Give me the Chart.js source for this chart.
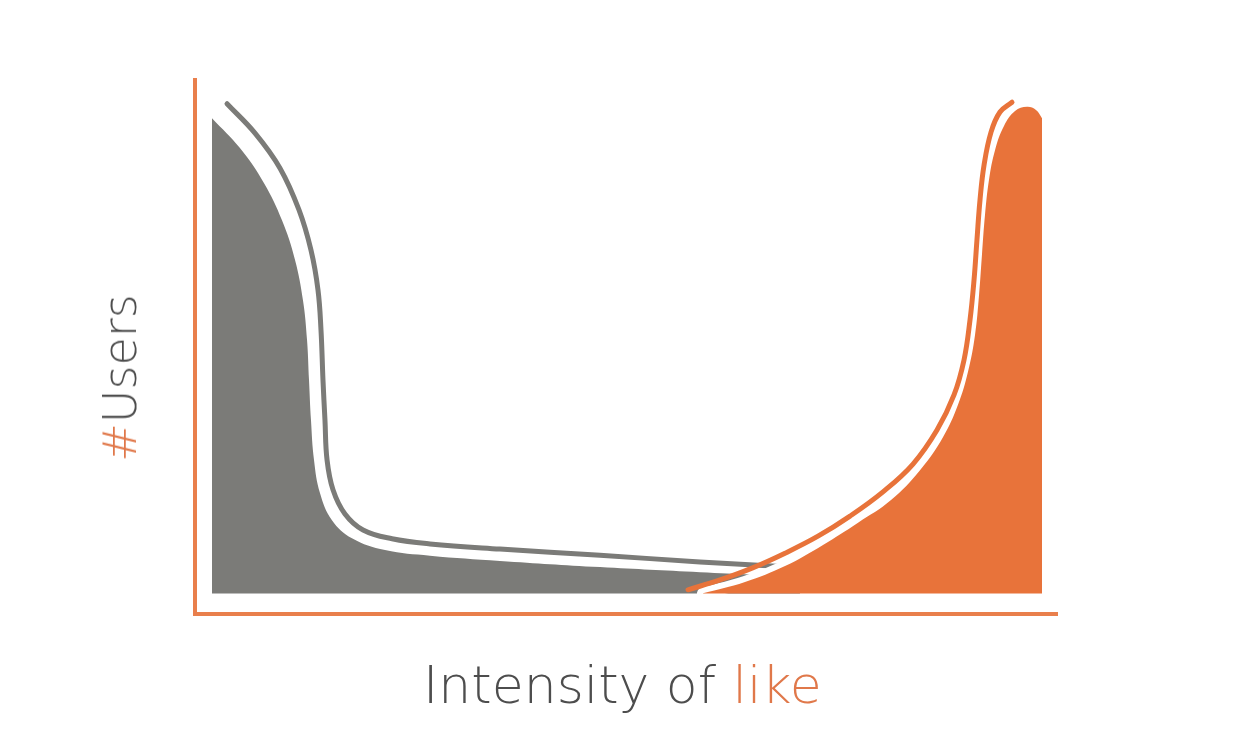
<!DOCTYPE html>
<html>
<head>
<meta charset="utf-8">
<script src="https://cdn.jsdelivr.net/npm/chart.js@4.4.1/dist/chart.umd.min.js"></script>
<style>
  html, body { margin: 0; padding: 0; background: #fff; }
  #wrap { position: relative; width: 1240px; height: 734px; overflow: hidden; }
  canvas { position: absolute; left: 0; top: 0; }
  .title { position: absolute; font-family: "DejaVu Sans", sans-serif; font-weight: 200;
           color: #4d4d4d; white-space: nowrap; line-height: 1; }
  .hot { color: #e0784a; }
  #xTitle { left: 423px; top: 659px; font-size: 52px; }
  #yTitle { left: 120px; top: 378px; font-size: 46px; transform: translate(-50%, -50%) rotate(-90deg); }
</style>
</head>
<body>
<div id="wrap">
  <canvas id="myChart" width="1240" height="734"></canvas>
  <div class="title" id="xTitle">Intensity of <span class="hot">like</span></div>
  <div class="title" id="yTitle"><span class="hot">#</span>Users</div>
</div>
<script>
  // Intensity of like (0-100) vs #Users (0-100)
  const grayAreaX = [1.97, 5.21, 8.00, 10.08, 11.59, 12.51, 12.98, 13.21, 13.44, 13.79, 14.48, 15.87, 18.19, 22.02, 27.23, 35.34, 46.93, 58.52, 70.10];
  const grayAreaY = [92.2, 86.4, 79.6, 72.4, 64.7, 56.9, 49.2, 41.4, 33.6, 25.9, 19.5, 14.2, 10.7, 8.4, 7.3, 6.3, 5.1, 4.1, 3.2];

  const grayLineX = [3.71, 6.95, 9.85, 12.05, 13.44, 14.25, 14.60, 14.83, 15.06, 15.30, 15.99, 17.38, 19.47, 22.83, 27.23, 35.34, 46.93, 58.52, 68.95];
  const grayLineY = [95.0, 89.3, 82.5, 74.4, 66.6, 58.9, 51.1, 41.4, 33.6, 25.9, 20.1, 15.4, 12.3, 10.6, 9.6, 8.6, 7.4, 6.1, 5.1];

  const orangeAreaX = [58.86, 63.73, 68.37, 72.77, 76.83, 80.65, 84.01, 86.67, 88.41, 89.57, 90.38, 90.85, 91.19, 91.54, 92.00, 92.70, 93.74, 95.02, 96.41, 97.45, 98.15];
  const orangeAreaY = [0, 2.2, 5.3, 9.4, 13.7, 18.1, 23.9, 30.3, 36.6, 43.0, 50.1, 57.9, 65.7, 73.4, 80.2, 86.0, 90.7, 93.6, 94.4, 93.8, 92.2];

  const orangeLineX = [57.13, 60.83, 64.54, 68.37, 72.19, 75.90, 79.72, 83.20, 85.98, 87.95, 89.11, 89.80, 90.27, 90.61, 90.96, 91.43, 92.24, 93.28, 94.67];
  const orangeLineY = [0.7, 2.6, 4.9, 7.8, 11.1, 15.0, 19.7, 25.1, 31.7, 38.5, 45.3, 53.0, 60.8, 68.6, 76.3, 83.1, 89.5, 93.4, 95.3];

  const GRAY = '#7b7b78';
  const ORANGE = '#e8733a';

  function toPoints(xs, ys) {
    return xs.map((x, i) => ({ x: x, y: ys[i] }));
  }

  // orange L-shaped axes
  const axesPlugin = {
    id: 'axesLines',
    beforeDatasetsDraw(chart) {
      const a = chart.chartArea;
      const ctx = chart.ctx;
      ctx.save();
      ctx.strokeStyle = '#e97f4c';
      ctx.lineWidth = 4;
      ctx.beginPath();
      ctx.moveTo(a.left, a.top);
      ctx.lineTo(a.left, a.bottom);
      ctx.lineTo(a.right, a.bottom);
      ctx.stroke();
      ctx.restore();
    }
  };

  const lineDefaults = { pointRadius: 0, tension: 0.4, showLine: true, borderCapStyle: 'round' };

  new Chart(document.getElementById('myChart'), {
    type: 'line',
    data: {
      datasets: [
        Object.assign({}, lineDefaults, {
          label: 'gray area', data: toPoints(grayAreaX, grayAreaY),
          fill: 'origin', backgroundColor: GRAY, borderWidth: 0, order: 6
        }),
        Object.assign({}, lineDefaults, {
          label: 'gray line', data: toPoints(grayLineX, grayLineY),
          fill: false, borderColor: GRAY, borderWidth: 5, order: 5
        }),
        Object.assign({}, lineDefaults, {
          label: 'gap', data: toPoints(orangeAreaX, orangeAreaY),
          fill: false, borderColor: '#ffffff', borderWidth: 12, order: 4
        }),
        Object.assign({}, lineDefaults, {
          label: 'orange area', data: toPoints(orangeAreaX, orangeAreaY),
          fill: 'origin', backgroundColor: ORANGE, borderWidth: 0, order: 3
        }),
        Object.assign({}, lineDefaults, {
          label: 'orange line', data: toPoints(orangeLineX, orangeLineY),
          fill: false, borderColor: ORANGE, borderWidth: 5, order: 2
        })
      ]
    },
    options: {
      responsive: false,
      animation: false,
      layout: { padding: { left: 195, right: 182, top: 78, bottom: 120 } },
      scales: {
        x: { type: 'linear', min: 0, max: 100, display: false },
        y: { type: 'linear', min: -4, max: 100, display: false }
      },
      plugins: {
        legend: { display: false },
        tooltip: { enabled: false }
      }
    },
    plugins: [axesPlugin]
  });
</script>
</body>
</html>
